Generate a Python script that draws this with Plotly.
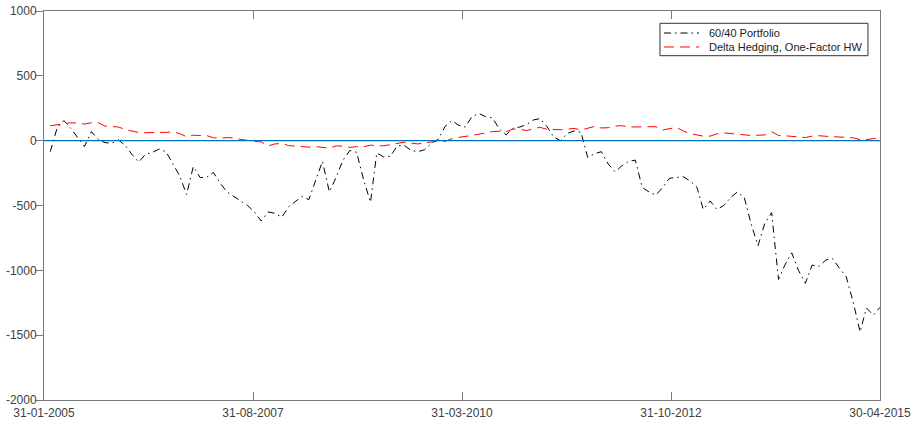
import pandas as pd
import plotly.graph_objects as go

# Monthly month-end observations, Feb 2005 .. Apr 2015
dates = pd.date_range("2005-02-28", periods=123, freq="ME")

portfolio_6040 = [
    -85, 100, 155, 95, 25, -45, 70, 10, -15, -20,
    5, -40, -105, -165, -105, -90, -65, -85, -180, -270,
    -415, -200, -285, -280, -245, -330, -395, -430, -460, -500,
    -550, -620, -550, -560, -590, -510, -470, -430, -455, -300,
    -160, -395, -280, -150, -75, -90, -300, -475, -95, -125,
    -120, -40, -35, -75, -85, -70, -20, 10, 110, 155,
    120, 105, 185, 210, 185, 175, 90, 45, 95, 105,
    125, 160, 170, 110, 30, 0, 55, 75, 65, -130,
    -100, -85, -180, -240, -195, -160, -150, -360, -395, -420,
    -360, -290, -285, -278, -310, -360, -530, -465, -530, -500,
    -440, -395, -440, -640, -810, -640, -555, -1070, -960, -865,
    -1000, -1100, -960, -970, -920, -910, -985, -1050, -1245, -1475,
    -1290, -1345, -1285,
]

delta_hedging_hw1 = [
    115, 122, 130, 138, 135, 128, 138, 140, 112, 108,
    105, 85, 75, 63, 62, 62, 62, 64, 68, 55,
    30, 42, 40, 38, 22, 18, 24, 20, 10, 0,
    -5, -10, -40, -25, -22, -38, -42, -45, -50, -46,
    -52, -58, -40, -42, -52, -46, -46, -35, -38, -40,
    -30, -20, -12, -18, -25, -18, -8, -2, -5, 15,
    25, 30, 40, 50, 60, 70, 72, 69, 90, 88,
    78, 90, 103, 88, 84, 84, 88, 95, 82, 94,
    110, 98, 100, 112, 116, 105, 106, 108, 112, 108,
    82, 90, 103, 75, 55, 44, 35, 35, 52, 60,
    55, 52, 42, 40, 42, 44, 69, 40, 38, 34,
    26, 24, 35, 38, 34, 30, 25, 23, 22, 8,
    8, 16, 18,
]

series_names = ["60/40 Portfolio", "Delta Hedging, One-Factor HW"]

x_start, x_end = pd.Timestamp("2005-01-31"), pd.Timestamp("2015-04-30")
x_tick_labels = ["31-01-2005", "31-08-2007", "31-03-2010", "31-10-2012", "30-04-2015"]
y_ticks = [-2000, -1500, -1000, -500, 0, 500, 1000]
baseline = 0

n = len(x_tick_labels) - 1
x_tick_vals = [x_start + k * (x_end - x_start) / n for k in range(n + 1)]

FONT = "Liberation Sans, Arial, Helvetica, sans-serif"
AXIS_COLOR = "#7a7a7a"
TICK_FONT = dict(family=FONT, size=12, color="#404040")
styles = [
    dict(color="#000000", width=1, dash="7px,4px,1.5px,4px"),
    dict(color="#ff0000", width=1, dash="10px,6px"),
]

fig = go.Figure()
for name, values, style in zip(series_names, [portfolio_6040, delta_hedging_hw1], styles):
    fig.add_trace(go.Scatter(x=dates, y=values, mode="lines", name=name,
                             line=style, showlegend=False))
fig.add_hline(y=baseline, line=dict(color="#0072BD", width=1.3))

# Compact boxed legend in the upper-right corner (paper coordinates)
box_x0, box_x1, box_y0, box_y1 = 0.7368, 0.9856, 0.8851, 0.9684
sample_x0, sample_x1, text_x = 0.7416, 0.7835, 0.7925
row_y = [0.9434, 0.9075]
fig.add_shape(type="rect", xref="paper", yref="paper",
              x0=box_x0, x1=box_x1, y0=box_y0, y1=box_y1,
              line=dict(color="#333333", width=1), fillcolor="white", layer="above")
for name, style, ry in zip(series_names, styles, row_y):
    fig.add_shape(type="line", xref="paper", yref="paper",
                  x0=sample_x0, x1=sample_x1, y0=ry, y1=ry, line=style, layer="above")
    fig.add_annotation(xref="paper", yref="paper", x=text_x, y=ry, text=name,
                       showarrow=False, xanchor="left", yanchor="middle",
                       font=dict(family=FONT, size=11, color="#222222"))

fig.update_layout(
    width=915, height=422,
    margin=dict(l=44, r=35, t=11, b=22),
    paper_bgcolor="white", plot_bgcolor="white",
    font=dict(family=FONT, size=11, color="#333333"),
    xaxis=dict(
        type="date", range=[x_start, x_end], automargin=False,
        tickvals=x_tick_vals, ticktext=x_tick_labels, ticklabelstandoff=2,
        tickfont=TICK_FONT,
        ticks="inside", ticklen=8, tickcolor=AXIS_COLOR,
        showline=True, linecolor=AXIS_COLOR, linewidth=1, mirror="ticks",
        showgrid=False, zeroline=False,
    ),
    yaxis=dict(
        range=[-2000, 1000], automargin=False,
        tickvals=y_ticks, ticktext=[str(v) for v in y_ticks], ticklabelstandoff=-4,
        tickfont=TICK_FONT,
        ticks="outside", ticklen=8, tickcolor=AXIS_COLOR,
        showline=True, linecolor=AXIS_COLOR, linewidth=1, mirror=True,
        showgrid=False, zeroline=False,
    ),
    yaxis2=dict(
        overlaying="y", side="right", matches="y", automargin=False,
        tickvals=y_ticks, ticks="inside", ticklen=8, tickcolor=AXIS_COLOR,
        showticklabels=False, showline=False, showgrid=False, zeroline=False,
    ),
)

fig.write_html("out.html")
